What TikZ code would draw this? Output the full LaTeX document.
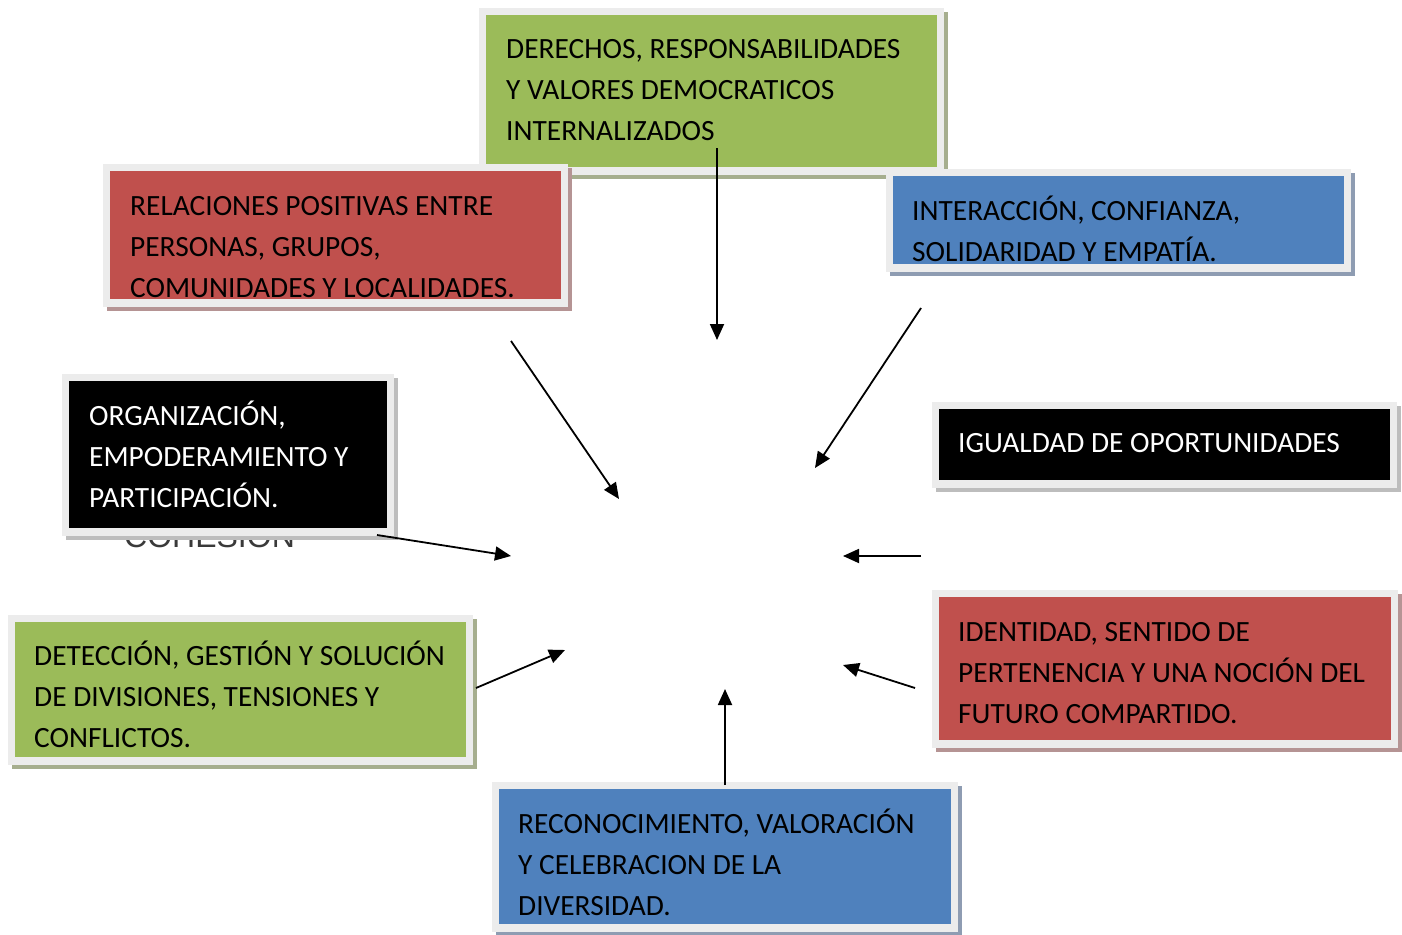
\documentclass[tikz,border=0pt]{standalone}
\usepackage{fontspec}
\setmainfont{Carlito}
\newfontfamily\arialf{Liberation Sans}
\usetikzlibrary{arrows.meta}
\definecolor{cgreen}{HTML}{9BBB59}
\definecolor{cred}{HTML}{C0504D}
\definecolor{cblue}{HTML}{4F81BD}
\definecolor{sgreen}{HTML}{A6AE8E}
\definecolor{sred}{HTML}{B59494}
\definecolor{sblue}{HTML}{8E9CB2}
\definecolor{sblack}{HTML}{BDBDBD}
\definecolor{outerc}{HTML}{ECECEC}
\definecolor{cohc}{HTML}{3A3A3A}
\newcommand\mybox[7]{%
  \fill[#7] (#2-3,#3-3) rectangle (#4+11,#5+12);
  \fill[outerc] (#2-7,#3-7) rectangle (#4+7,#5+8);
  \node[inner sep=0pt, outer sep=0pt, fill=#6, anchor=north west,
        minimum width=#4pt-#2pt, minimum height=#5pt-#3pt] (#1) at (#2,#3) {};
}
\tikzset{
  txt/.style={anchor=north west, inner sep=0pt, align=left,
              font=\fontsize{29.4}{41}\selectfont},
  wtxt/.style={txt, text=white},
  arr/.style={line width=1.8pt, -{Triangle[length=16pt,width=14pt]}}
}
\begin{document}
\begin{tikzpicture}[x=1pt,y=-1pt]
\useasboundingbox (0,0) rectangle (1402,934);
\fill[white] (0,0) rectangle (1402,934);

% hidden title text behind the black box
\node[anchor=base west, inner sep=0pt, text=cohc,
      font=\arialf\fontsize{32}{38}\selectfont] (coh) at (124,547) {COHESIÓN};

% boxes
\mybox{bTop}{486}{15}{937}{167}{cgreen}{sgreen}
\mybox{bRel}{110}{171}{561}{299}{cred}{sred}
\mybox{bInt}{893}{176}{1344}{264}{cblue}{sblue}
\mybox{bOrg}{69}{381}{387}{528}{black}{sblack}
\mybox{bIgu}{939}{409}{1390}{480}{black}{sblack}
\mybox{bDet}{15}{622}{466}{757}{cgreen}{sgreen}
\mybox{bIde}{939}{597}{1391}{740}{cred}{sred}
\mybox{bRec}{499}{789}{951}{924}{cblue}{sblue}

% texts
\node[txt] (tTop) at (506,58-28.7) {\strut DERECHOS, RESPONSABILIDADES\\Y VALORES DEMOCRATICOS\\INTERNALIZADOS};
\node[txt] (tRel) at (130,215-28.7) {\strut RELACIONES POSITIVAS ENTRE\\PERSONAS, GRUPOS,\\COMUNIDADES Y LOCALIDADES.};
\node[txt] (tInt) at (912,220-28.7) {\strut INTERACCIÓN, CONFIANZA,\\SOLIDARIDAD Y EMPATÍA.};
\node[wtxt] (tOrg) at (89,425-28.7) {\strut ORGANIZACIÓN,\\EMPODERAMIENTO Y\\PARTICIPACIÓN.};
\node[wtxt] (tIgu) at (958,452-28.7) {\strut IGUALDAD DE OPORTUNIDADES};
\node[txt] (tDet) at (34,665-28.7) {\strut DETECCIÓN, GESTIÓN Y SOLUCIÓN\\DE DIVISIONES, TENSIONES Y\\CONFLICTOS.};
\node[txt] (tIde) at (958,641-28.7) {\strut IDENTIDAD, SENTIDO DE\\PERTENENCIA Y UNA NOCIÓN DEL\\FUTURO COMPARTIDO.};
\node[txt] (tRec) at (518,833-28.7) {\strut RECONOCIMIENTO, VALORACIÓN\\Y CELEBRACION DE LA\\DIVERSIDAD.};

% arrow endpoints
\coordinate (s1) at (717,148); \coordinate (e1) at (717,340);
\coordinate (s2) at (511,341); \coordinate (e2) at (619,499);
\coordinate (s3) at (921,308); \coordinate (e3) at (815,468);
\coordinate (s4) at (377,535); \coordinate (e4) at (511,556);
\coordinate (s5) at (921,556); \coordinate (e5) at (843,556);
\coordinate (s6) at (476,688); \coordinate (e6) at (565,650);
\coordinate (s7) at (915,688); \coordinate (e7) at (843,665);
\coordinate (s8) at (725,785); \coordinate (e8) at (725,689);

\foreach \i in {1,...,8} \draw[arr] (s\i) -- (e\i);
\end{tikzpicture}
\end{document}
